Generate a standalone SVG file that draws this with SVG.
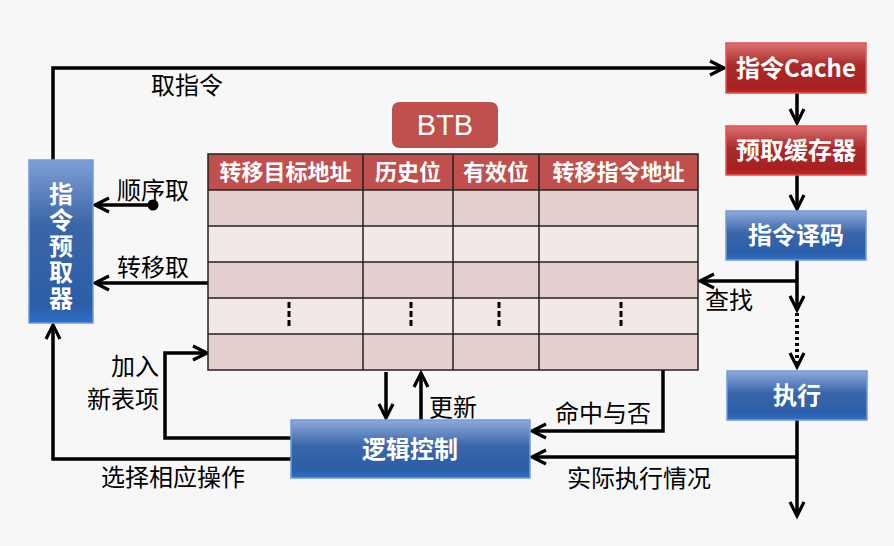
<svg xmlns="http://www.w3.org/2000/svg" width="894" height="546" viewBox="0 0 894 546">
<defs>
<linearGradient id="gBlue" x1="0" y1="0" x2="0" y2="1">
<stop offset="0" stop-color="#8eaadb"/>
<stop offset="0.45" stop-color="#3a66a8"/>
<stop offset="0.85" stop-color="#2a5ea8"/>
<stop offset="1" stop-color="#3070c8"/>
</linearGradient>
<linearGradient id="gBlueV" x1="0" y1="0" x2="0" y2="1">
<stop offset="0" stop-color="#7f9fd6"/>
<stop offset="0.4" stop-color="#3b66a6"/>
<stop offset="0.9" stop-color="#2a5ea8"/>
<stop offset="1" stop-color="#3070c8"/>
</linearGradient>
<linearGradient id="gRed" x1="0" y1="0" x2="0" y2="1">
<stop offset="0" stop-color="#d97270"/>
<stop offset="0.45" stop-color="#a92a2a"/>
<stop offset="0.9" stop-color="#a82020"/>
<stop offset="1" stop-color="#c42a2a"/>
</linearGradient>
<marker id="arr" markerUnits="userSpaceOnUse" markerWidth="20" markerHeight="20" viewBox="-2 -10 20 20" refX="14" refY="0" orient="auto">
<path d="M0,-7 L14,0 L0,7" fill="none" stroke="#000" stroke-width="3.2" stroke-linejoin="miter"/>
</marker>
</defs>
<style>
.bg{fill:#f7f7f7}
.ln{fill:none;stroke:#000;stroke-width:3.5}
.lbl{font-family:"Noto Sans CJK SC","Noto Sans",sans-serif;font-size:24px;fill:#000}
.bx{font-family:"Noto Sans CJK SC","Liberation Sans",sans-serif;font-size:24px;font-weight:bold;fill:#fff}
.hd{font-family:"Noto Sans CJK SC",sans-serif;font-size:22px;font-weight:bold;fill:#fff}
.blue{fill:url(#gBlue);stroke:#6f9ae0;stroke-width:1.5}
.red{fill:url(#gRed);stroke:#e85050;stroke-width:1.5}
.dk{fill:#e6cfcf}
.lt{fill:#f2e8e8}
.grid{stroke:#222;stroke-width:1.5;fill:none}
.dash{stroke:#000;stroke-width:3;stroke-dasharray:6,3}
</style>
<rect class="bg" x="0" y="0" width="894" height="546"/>

<g id="connectors">
<polyline class="ln" points="53,160 53,68 724,68" marker-end="url(#arr)"/>
<line class="ln" x1="797" y1="93" x2="797" y2="123" marker-end="url(#arr)"/>
<line class="ln" x1="797" y1="175" x2="797" y2="209" marker-end="url(#arr)"/>
<line class="ln" x1="797" y1="260" x2="797" y2="310" marker-end="url(#arr)"/>
<line class="ln" x1="797" y1="281" x2="700" y2="281" marker-end="url(#arr)"/>
<line x1="797" y1="313" x2="797" y2="367" stroke="#000" stroke-width="4" stroke-dasharray="3,3" marker-end="url(#arr)"/>
<line class="ln" x1="797" y1="420" x2="797" y2="516" marker-end="url(#arr)"/>
<line class="ln" x1="797" y1="457" x2="532" y2="457" marker-end="url(#arr)"/>
<polyline class="ln" points="663,370 663,431 532,431" marker-end="url(#arr)"/>
<line class="ln" x1="386" y1="372" x2="386" y2="418" marker-end="url(#arr)"/>
<line class="ln" x1="421" y1="420" x2="421" y2="373" marker-end="url(#arr)"/>
<polyline class="ln" points="291,438 165,438 165,353 207,353" marker-end="url(#arr)"/>
<polyline class="ln" points="291,459 53,459 53,325" marker-end="url(#arr)"/>
<line class="ln" x1="153" y1="205" x2="95" y2="205" marker-end="url(#arr)"/>
<circle cx="153" cy="205" r="5.5" fill="#000"/>
<line class="ln" x1="270" y1="283" x2="95" y2="283" marker-end="url(#arr)"/>
<circle cx="270" cy="283" r="5.5" fill="#000"/>
</g>

<g id="labels">
<text class="lbl" x="151" y="94">取指令</text>
<text class="lbl" x="117" y="199">顺序取</text>
<text class="lbl" x="117" y="276">转移取</text>
<text class="lbl" x="705" y="309">查找</text>
<text class="lbl" x="159" y="375" text-anchor="end" font-size="22">加入</text>
<text class="lbl" x="159" y="408" text-anchor="end" font-size="22">新表项</text>
<text class="lbl" x="429" y="416">更新</text>
<text class="lbl" x="555" y="422">命中与否</text>
<text class="lbl" x="567" y="487">实际执行情况</text>
<text class="lbl" x="101" y="486">选择相应操作</text>
</g>

<g id="prefetcher">
<rect x="29" y="160" width="64" height="163" fill="url(#gBlueV)" stroke="#6f9ae0" stroke-width="1.5"/>
<text class="bx" x="61" y="182" writing-mode="vertical-rl" font-size="22" letter-spacing="2">指令预取器</text>
</g>

<g id="cache">
<rect class="red" x="726" y="43" width="140" height="50"/>
<text class="bx" x="796" y="77" text-anchor="middle">指令Cache</text>
</g>
<g id="prefetch-buffer">
<rect class="red" x="726" y="126" width="140" height="49"/>
<text class="bx" x="796" y="159" text-anchor="middle">预取缓存器</text>
</g>
<g id="decode">
<rect class="blue" x="726" y="211" width="140" height="49"/>
<text class="bx" x="796" y="244" text-anchor="middle">指令译码</text>
</g>
<g id="execute">
<rect class="blue" x="727" y="371" width="140" height="49"/>
<text class="bx" x="797" y="404" text-anchor="middle">执行</text>
</g>
<g id="logic">
<rect class="blue" x="291" y="420" width="239" height="58"/>
<text class="bx" x="410" y="458" text-anchor="middle">逻辑控制</text>
</g>

<g id="btb-label">
<rect x="390" y="100" width="110" height="50" rx="9" fill="#fff"/>
<rect x="392" y="102" width="106" height="46" rx="7" fill="#c0504d"/>
<text x="445" y="135" text-anchor="middle" font-family="'Liberation Sans','Noto Sans',sans-serif" font-size="29" fill="#fff">BTB</text>
</g>

<g id="btb-table">
<rect x="208" y="154" width="490" height="36" fill="#c0504d"/>
<rect class="dk" x="208" y="190" width="490" height="36"/>
<rect class="lt" x="208" y="226" width="490" height="36"/>
<rect class="dk" x="208" y="262" width="490" height="36"/>
<rect class="lt" x="208" y="298" width="490" height="36"/>
<rect class="dk" x="208" y="334" width="490" height="36"/>
<rect class="grid" x="208" y="154" width="490" height="216"/>
<path class="grid" d="M208,190H698M208,226H698M208,262H698M208,298H698M208,334H698M363,154V370M453,154V370M539,154V370"/>
<text class="hd" x="285.5" y="180" text-anchor="middle">转移目标地址</text>
<text class="hd" x="408" y="180" text-anchor="middle">历史位</text>
<text class="hd" x="496" y="180" text-anchor="middle">有效位</text>
<text class="hd" x="618.5" y="180" text-anchor="middle">转移指令地址</text>
<line class="dash" x1="289" y1="302" x2="289" y2="329"/>
<line class="dash" x1="411" y1="302" x2="411" y2="329"/>
<line class="dash" x1="499" y1="302" x2="499" y2="329"/>
<line class="dash" x1="621" y1="302" x2="621" y2="329"/>
</g>
</svg>
